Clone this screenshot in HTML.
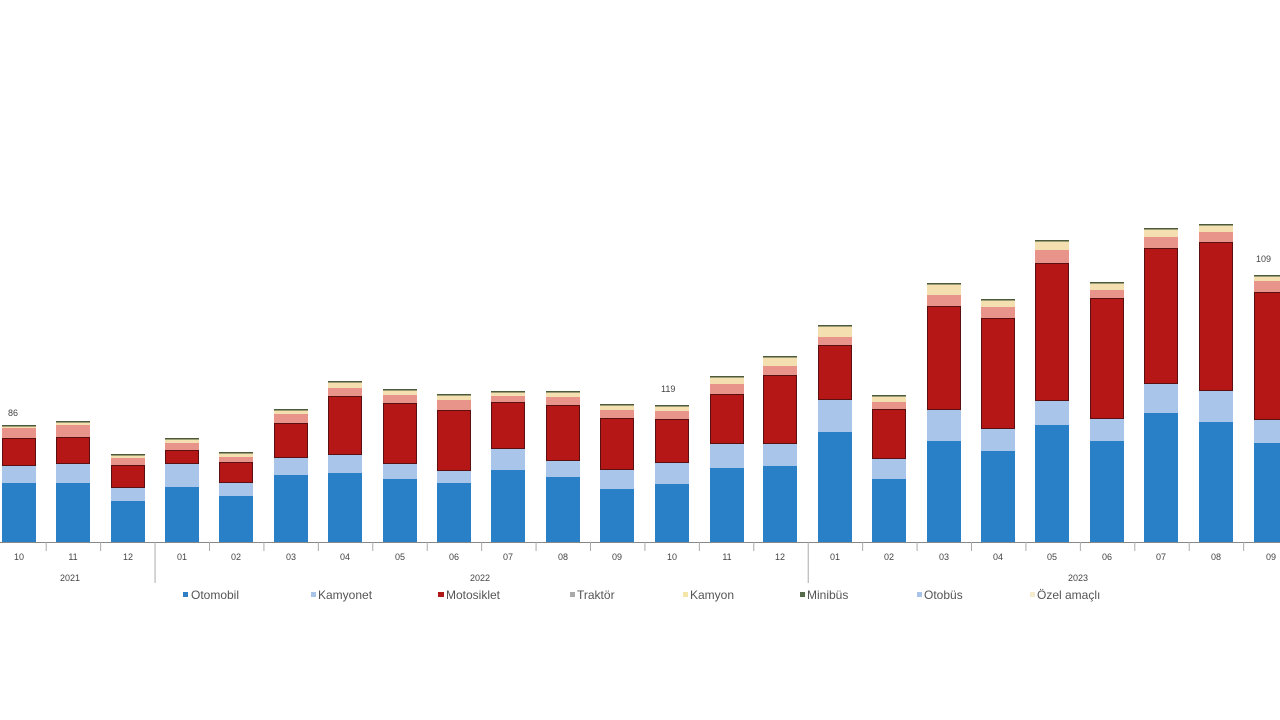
<!DOCTYPE html>
<html><head><meta charset="utf-8"><style>
html,body{margin:0;padding:0;background:#fff;width:1280px;height:720px;overflow:hidden}
svg{display:block}
text{font-family:"Liberation Sans",sans-serif;fill:#444}
</style></head><body>
<svg id="c" width="1280" height="720" viewBox="0 0 1280 720">
<g id="bars"></g>
<line x1="0" y1="542.5" x2="1280" y2="542.5" stroke="#888" stroke-width="1"/>
<g id="ticks"></g>
<g font-size="9" text-anchor="middle" fill="#555">
<text x="19" y="560">10</text><text x="73" y="560">11</text><text x="128" y="560">12</text>
<text x="182" y="560">01</text><text x="236" y="560">02</text><text x="291" y="560">03</text>
<text x="345" y="560">04</text><text x="400" y="560">05</text><text x="454" y="560">06</text>
<text x="508" y="560">07</text><text x="563" y="560">08</text><text x="617" y="560">09</text>
<text x="672" y="560">10</text><text x="727" y="560">11</text><text x="780" y="560">12</text>
<text x="835" y="560">01</text><text x="889" y="560">02</text><text x="944" y="560">03</text>
<text x="998" y="560">04</text><text x="1052" y="560">05</text><text x="1107" y="560">06</text>
<text x="1161" y="560">07</text><text x="1216" y="560">08</text><text x="1271" y="560">09</text>
<text x="70" y="581">2021</text><text x="480" y="581">2022</text><text x="1078" y="581">2023</text>
</g>
<g font-size="9">
<text x="8" y="416">86</text><text x="661" y="392">119</text><text x="1256" y="262">109</text>
</g>
<g font-size="12" style="fill:#555">
<rect x="183" y="592" width="5" height="5" fill="#2e7fc4"/><text x="191" y="599" style="fill:#555">Otomobil</text>
<rect x="311" y="592" width="5" height="5" fill="#a8c4e8"/><text x="318" y="599" style="fill:#555">Kamyonet</text>
<rect x="438" y="592" width="6" height="5" fill="#b01818"/><text x="446" y="599" style="fill:#555">Motosiklet</text>
<rect x="570" y="592" width="5" height="5" fill="#aaa"/><text x="577" y="599" style="fill:#555">Traktör</text>
<rect x="683" y="592" width="5" height="5" fill="#f5e6a8"/><text x="690" y="599" style="fill:#555">Kamyon</text>
<rect x="800" y="592" width="5" height="5" fill="#556b4a"/><text x="807" y="599" style="fill:#555">Minibüs</text>
<rect x="917" y="592" width="5" height="5" fill="#a8c4e8"/><text x="924" y="599" style="fill:#555">Otobüs</text>
<rect x="1030" y="592" width="5" height="5" fill="#f5ecd0"/><text x="1037" y="599" style="fill:#555">Özel amaçlı</text>
</g>
</svg>
<script>
var d=[[19,483,466,438,428,426],[73,483,464,437,425,422],[128,501,488,465,458,455],[182,487,464,450,443,439],[236,496,483,462,457,453],[291,475,458,423,414,410],[345,473,455,396,388,382],[400,479,464,403,395,390],[454,483,471,410,400,395],[508,470,449,402,396,392],[563,477,461,405,397,392],[617,489,470,418,410,405],[672,484,463,419,411,406],[727,468,444,394,384,377],[780,466,444,375,366,357],[835,432,400,345,337,326],[889,479,459,409,402,396],[944,441,410,306,295,284],[998,451,429,318,307,300],[1052,425,401,263,250,241],[1107,441,419,298,290,283],[1161,413,384,248,237,229],[1216,422,391,242,232,225],[1271,443,420,292,281,276]];
var ns="http://www.w3.org/2000/svg",g=document.getElementById("bars"),t=document.getElementById("ticks");
function r(x,y,w,h,f,s){var e=document.createElementNS(ns,"rect");e.setAttribute("x",x);e.setAttribute("y",y);e.setAttribute("width",w);e.setAttribute("height",Math.max(h,0));e.setAttribute("fill",f);if(s){e.setAttribute("stroke",s);e.setAttribute("stroke-width","1");}g.appendChild(e);}
d.forEach(function(b){var x=b[0]-17,w=34;
r(x,b[1],w,542-b[1],"#2a80c6");
r(x,b[2],w,b[1]-b[2],"#a9c5e9");
r(x+0.5,b[3]+0.5,w-1,b[2]-b[3]-1,"#b51717","#5a1010");
r(x,b[4],w,b[3]-b[4],"#e8948a");
r(x,b[5],w,b[4]-b[5],"#f3dfb0");
r(x,b[5]-1,w,1.5,"#4a5a3a");
});
for(var i=0;i<24;i++){var x=19+i*54.43+27.2;var l=document.createElementNS(ns,"line");var big=(i==2||i==14);
l.setAttribute("x1",x);l.setAttribute("x2",x);l.setAttribute("y1",542);l.setAttribute("y2",big?583:551);l.setAttribute("stroke","#aaa");t.appendChild(l);}
</script>
</body></html>
